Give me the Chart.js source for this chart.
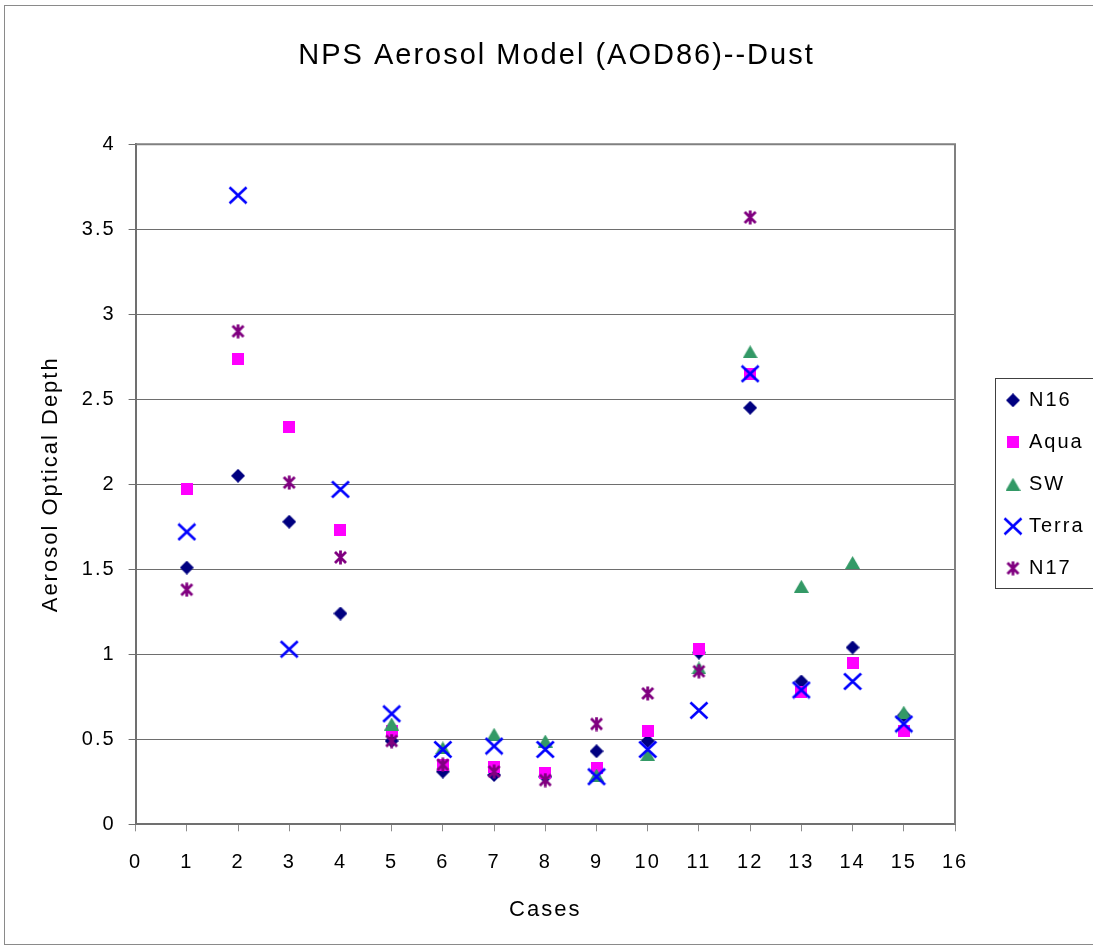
<!DOCTYPE html>
<html>
<head>
<meta charset="utf-8">
<script src="https://cdn.jsdelivr.net/npm/chart.js@4.4.1/dist/chart.umd.min.js"></script>
<style>
  html, body { margin: 0; padding: 0; background: #ffffff; }
  #wrap { width: 1093px; height: 949px; }
</style>
</head>
<body>
<div id="wrap"><canvas id="c" width="1093" height="949"></canvas></div>
<script>
// ---- data ----
const cases = [1, 2, 3, 4, 5, 6, 7, 8, 9, 10, 11, 12, 13, 14, 15];
const n16   = [1.51, 2.05, 1.78, 1.24, 0.49, 0.31, 0.29, 0.28, 0.43, 0.49, 1.01, 2.45, 0.84, 1.04, 0.64];
const aqua  = [1.97, 2.74, 2.34, 1.73, 0.55, 0.35, 0.34, 0.30, 0.33, 0.55, 1.03, 2.65, 0.78, 0.95, 0.55];
const sw    = [null, null, null, null, 0.59, 0.45, 0.53, 0.49, 0.29, 0.41, 0.92, 2.78, 1.40, 1.54, 0.66];
const terra = [1.72, 3.70, 1.03, 1.97, 0.65, 0.44, 0.46, 0.44, 0.28, 0.44, 0.67, 2.65, 0.79, 0.84, 0.59];
const n17   = [1.38, 2.90, 2.01, 1.57, 0.49, 0.35, 0.31, 0.26, 0.59, 0.77, 0.90, 3.57, null, null, null];
const seriesNames = ['N16', 'Aqua', 'SW', 'Terra', 'N17'];
const xTicks = [0, 1, 2, 3, 4, 5, 6, 7, 8, 9, 10, 11, 12, 13, 14, 15, 16];
const yTicks = [0, 0.5, 1, 1.5, 2, 2.5, 3, 3.5, 4];
const titleText = 'NPS Aerosol Model (AOD86)--Dust';
const xTitle = 'Cases';
const yTitle = 'Aerosol Optical Depth';

// ---- marker images ----
function mk(w, h, draw) {
  const c = document.createElement('canvas');
  c.width = w; c.height = h;
  draw(c.getContext('2d'), w, h);
  return c;
}
const colors = ['#000080', '#FF00FF', '#339966', '#0000FF', '#800080'];
const markers = [
  mk(14, 14, (g) => { g.fillStyle = colors[0]; g.beginPath(); g.moveTo(7, 0); g.lineTo(14, 7); g.lineTo(7, 14); g.lineTo(0, 7); g.closePath(); g.fill(); }),
  mk(12, 12, (g) => { g.fillStyle = colors[1]; g.fillRect(0, 0, 12, 12); }),
  mk(15, 13, (g) => { g.fillStyle = colors[2]; g.beginPath(); g.moveTo(7.5, 0); g.lineTo(15, 13); g.lineTo(0, 13); g.closePath(); g.fill(); }),
  mk(20, 19, (g) => { g.strokeStyle = colors[3]; g.lineWidth = 2.6; g.beginPath(); g.moveTo(1.5, 1.5); g.lineTo(18.5, 17.5); g.moveTo(18.5, 1.5); g.lineTo(1.5, 17.5); g.stroke(); }),
  mk(15, 15, (g) => { g.strokeStyle = colors[4]; g.lineWidth = 2.8; g.beginPath(); g.moveTo(2, 2); g.lineTo(13, 13); g.moveTo(13, 2); g.lineTo(2, 13); g.moveTo(7.5, 0.5); g.lineTo(7.5, 14.5); g.stroke(); })
];

const seriesData = [n16, aqua, sw, terra, n17];
const datasets = seriesData.map((arr, i) => ({
  label: seriesNames[i],
  data: cases.map((c, k) => ({ x: c, y: arr[k] })).filter(p => p.y !== null),
  pointStyle: markers[i],
  pointRadius: 6,
  pointHoverRadius: 6,
  backgroundColor: colors[i],
  borderColor: colors[i],
  order: 5 - i,
  yAxisID: 'y'
}));

Chart.defaults.font.family = "'Liberation Sans', Arial, Helvetica, sans-serif";
Chart.defaults.color = '#000000';

const spacing = {
  id: 'spacing',
  beforeUpdate(chart) { chart.ctx.letterSpacing = '2px'; },
  beforeLayout(chart) { chart.ctx.letterSpacing = '2px'; },
  beforeDraw(chart) {
    const ctx = chart.ctx;
    ctx.letterSpacing = '2px';
    ctx.save();
    ctx.fillStyle = '#ffffff';
    ctx.fillRect(0, 0, chart.width, chart.height);
    ctx.strokeStyle = '#8a8a8a';
    ctx.lineWidth = 1;
    ctx.strokeRect(4.5, 5.5, chart.width + 20, chart.height - 10);
    ctx.restore();
  },
  beforeDatasetsDraw(chart) {
    const a = chart.chartArea, ctx = chart.ctx;
    ctx.save();
    ctx.strokeStyle = '#808080';
    ctx.lineWidth = 2;
    ctx.beginPath();
    ctx.moveTo(a.left, a.top); ctx.lineTo(a.right, a.top); ctx.lineTo(a.right, a.bottom);
    ctx.stroke();
    ctx.restore();
  },
  afterDraw(chart) {
    const hb = chart.legend && chart.legend.legendHitBoxes;
    if (!hb || !hb.length) return;
    const ctx = chart.ctx;
    const top = hb[0].top - 12;
    const bottom = hb[hb.length - 1].top + hb[hb.length - 1].height + 10;
    const left = hb[0].left - 12;
    ctx.save();
    ctx.strokeStyle = '#404040';
    ctx.lineWidth = 1;
    ctx.strokeRect(Math.round(left) + 0.5, Math.round(top) + 0.5, 200, Math.round(bottom - top));
    ctx.restore();
  }
};

new Chart(document.getElementById('c'), {
  type: 'scatter',
  data: { datasets },
  options: {
    responsive: false,
    devicePixelRatio: 1,
    animation: false,
    layout: { padding: { left: 20, right: 0, top: 0, bottom: 0 } },
    plugins: {
      tooltip: { enabled: false },
      title: {
        display: true,
        text: titleText,
        color: '#000000',
        font: { size: 29, weight: 'normal' },
        padding: { top: 39, bottom: 70.5 }
      },
      legend: {
        display: true,
        position: 'right',
        align: 'center',
        fullSize: false,
        maxWidth: 108,
        labels: {
          usePointStyle: true,
          boxWidth: 12,
          boxHeight: 9,
          padding: 22,
          color: '#000000',
          font: { size: 20 },
          generateLabels(chart) {
            return chart.data.datasets.map((ds, i) => ({
              text: ds.label,
              fillStyle: ds.backgroundColor,
              strokeStyle: ds.borderColor,
              lineWidth: 0,
              pointStyle: ds.pointStyle,
              hidden: false,
              datasetIndex: i,
              fontColor: '#000000'
            }));
          }
        }
      }
    },
    scales: {
      x: {
        type: 'linear',
        position: 'bottom',
        min: 0,
        max: 16,
        afterBuildTicks(scale) { scale.ticks = xTicks.map(v => ({ value: v })); },
        afterFit(scale) { scale.height = 124.7; },
        ticks: {
          autoSkip: false,
          maxRotation: 0,
          padding: 19,
          font: { size: 20 },
          color: '#000000',
          callback: (v) => String(v)
        },
        grid: { display: true, drawOnChartArea: false, drawTicks: true, tickLength: 7, color: '#8c8c8c', lineWidth: 1 },
        border: { display: true, color: '#707070', width: 2 },
        title: { display: true, text: xTitle, font: { size: 22 }, color: '#000000', padding: { top: 0, bottom: 26 } }
      },
      y: {
        type: 'linear',
        position: 'left',
        min: 0,
        max: 4,
        afterBuildTicks(scale) { scale.ticks = yTicks.map(v => ({ value: v })); },
        afterFit(scale) { scale.width = 115.6; },
        ticks: {
          autoSkip: false,
          padding: 13,
          font: { size: 20 },
          color: '#000000',
          callback: (v) => String(v)
        },
        grid: { display: true, drawOnChartArea: true, drawTicks: true, tickLength: 7, color: '#6e6e6e', lineWidth: 1 },
        border: { display: true, color: '#707070', width: 2 },
        title: { display: true, text: yTitle, font: { size: 22 }, color: '#000000', padding: { top: 18, bottom: 0 } }
      },
      y2: {
        type: 'linear',
        position: 'right',
        min: 0,
        max: 4,
        display: true,
        afterFit(scale) { scale.width = 30; },
        ticks: { display: false },
        grid: { display: false, drawTicks: false },
        border: { display: false }
      }
    }
  },
  plugins: [spacing]
});
</script>
</body>
</html>
